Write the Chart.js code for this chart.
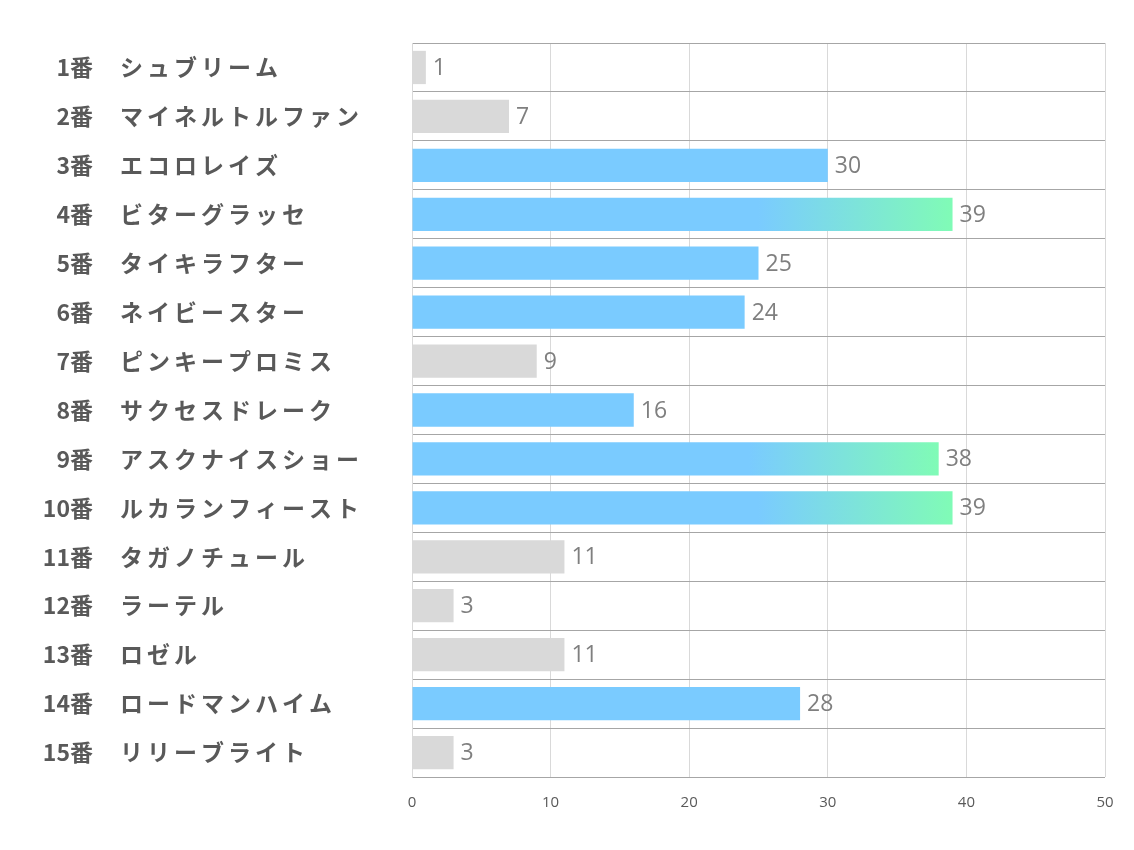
<!DOCTYPE html>
<html>
<head>
<meta charset="utf-8">
<script src="https://cdn.jsdelivr.net/npm/chart.js@4"></script>
<style>
  html, body { margin: 0; padding: 0; background: #fff; }
  #wrap { width: 1134px; height: 850px; }
</style>
</head>
<body>
<div id="wrap"><canvas id="chart"></canvas></div>
<script>
// Data
const horseNumbers = ['1番', '2番', '3番', '4番', '5番', '6番', '7番', '8番', '9番', '10番', '11番', '12番', '13番', '14番', '15番'];
const horseNames = ['シュブリーム', 'マイネルトルファン', 'エコロレイズ', 'ビターグラッセ', 'タイキラフター', 'ネイビースター', 'ピンキープロミス', 'サクセスドレーク', 'アスクナイスショー', 'ルカランフィースト', 'タガノチュール', 'ラーテル', 'ロゼル', 'ロードマンハイム', 'リリーブライト'];
const scores = [1, 7, 30, 39, 25, 24, 9, 16, 38, 39, 11, 3, 11, 28, 3];
// bar group: 'low' = gray, 'mid' = blue, 'top' = blue->green
const groups = ['low', 'low', 'mid', 'top', 'mid', 'mid', 'low', 'mid', 'top', 'top', 'low', 'low', 'low', 'mid', 'low'];
const xTicks = [0, 10, 20, 30, 40, 50];

const GRAY = '#d9d9d9';
const BLUE = '#7acbff';
const GREEN = '#80fbb6';
const TEXT = '#595959';

function barColor(ctx) {
    const i = ctx.dataIndex;
    if (groups[i] === 'low') return GRAY;
    if (groups[i] === 'mid') return BLUE;
    const chart = ctx.chart;
    const x = chart.scales.x;
    if (!x || !chart.chartArea) return BLUE;
    const start = x.getPixelForValue(scores[i] * 0.64);
    const end = x.getPixelForValue(scores[i]);
    const g = chart.ctx.createLinearGradient(start, 0, end, 0);
    g.addColorStop(0, BLUE);
    g.addColorStop(1, GREEN);
    return g;
}

// draws the number / name labels on the left and value labels at bar ends
const labelPlugin = {
    id: 'labels',
    afterDatasetsDraw(chart) {
        const ctx = chart.ctx;
        const y = chart.scales.y;
        const meta = chart.getDatasetMeta(0);
        ctx.save();
        ctx.textBaseline = 'middle';
        horseNumbers.forEach((num, i) => {
            const py = y.getPixelForValue(i);
            ctx.fillStyle = TEXT;
            ctx.font = 'bold 23px "Noto Sans CJK JP", "Open Sans", sans-serif';
            ctx.textAlign = 'right';
            ctx.letterSpacing = '0px';
            ctx.fillText(num, 93, py);
            ctx.textAlign = 'left';
            ctx.letterSpacing = '4px';
            ctx.fillText(horseNames[i], 120, py);
            ctx.letterSpacing = '0px';
            const bar = meta.data[i];
            ctx.fillStyle = '#7f7f7f';
            ctx.font = '23px "Open Sans", sans-serif';
            ctx.fillText(String(scores[i]), bar.x + 7, py + 1);
        });
        ctx.restore();
    }
};

new Chart(document.getElementById('chart'), {
    type: 'bar',
    data: {
        labels: horseNames,
        datasets: [{
            data: scores,
            backgroundColor: barColor,
            borderWidth: 0,
            categoryPercentage: 1,
            barPercentage: 0.68
        }]
    },
    options: {
        indexAxis: 'y',
        responsive: true,
        maintainAspectRatio: false,
        animation: false,
        layout: { padding: { top: 43, right: 29, left: 0, bottom: 0 } },
        plugins: {
            legend: { display: false },
            tooltip: { enabled: false }
        },
        scales: {
            x: {
                min: 0,
                max: 50,
                afterBuildTicks(scale) { scale.ticks = xTicks.map(v => ({ value: v })); },
                afterFit(scale) { scale.height = 73; },
                grid: { color: '#d9d9d9', drawTicks: false },
                border: { display: false },
                ticks: {
                    padding: 17,
                    color: TEXT,
                    font: { family: '"Open Sans", sans-serif', size: 15 }
                }
            },
            y: {
                afterFit(scale) { scale.width = 412; },
                grid: { color: '#a6a6a6', drawTicks: false, offset: true },
                border: { color: '#d9d9d9' },
                ticks: { display: false }
            }
        }
    },
    plugins: [labelPlugin]
});
</script>
</body>
</html>
